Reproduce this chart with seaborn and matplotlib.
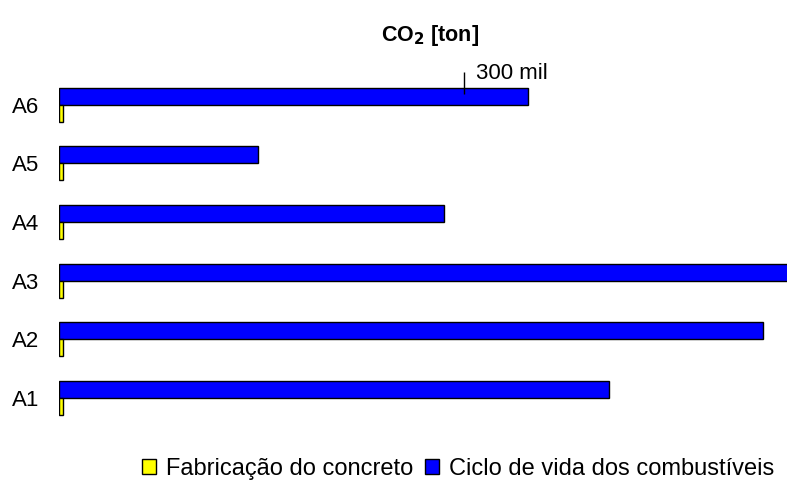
import pandas as pd
import seaborn as sns
import matplotlib.pyplot as plt
from matplotlib.patches import Patch
from matplotlib.transforms import offset_copy

# ---- data (tons of CO2)
categories = ['A6', 'A5', 'A4', 'A3', 'A2', 'A1']
concreto = [3000, 3000, 3000, 3000, 3000, 3000]
combustiveis = [347000, 147000, 285000, 560000, 521000, 407000]
series_names = ['Fabricação do concreto', 'Ciclo de vida dos combustíveis']
series_colors = ['#FFFF00', '#0000FF']
tick_value = 300000
tick_label = '300 mil'

df = pd.DataFrame({
    'cat': categories * 2,
    'serie': [series_names[1]] * 6 + [series_names[0]] * 6,
    'val': combustiveis + concreto,
})

sns.set_style('white')
plt.rcParams['font.family'] = ['Liberation Sans', 'DejaVu Sans']
plt.rcParams['text.color'] = 'black'
plt.rcParams['ytick.color'] = 'black'
plt.rcParams['xtick.color'] = 'black'

fig = plt.figure(figsize=(7.87, 4.80), dpi=100)
ax = fig.add_axes([59 / 787, 1 - 427 / 480, 1 - 59 / 787, 355 / 480])

sns.barplot(data=df, y='cat', x='val', hue='serie', order=categories,
            hue_order=[series_names[1], series_names[0]],
            palette=[series_colors[1], series_colors[0]], saturation=1,
            orient='h', width=0.58, edgecolor='black', linewidth=1,
            legend=False, ax=ax)

ax.set_xlim(0, 539000)
ax.set_ylim(5.5, -0.56)
ax.set_axisbelow(False)
for s in ax.spines.values():
    s.set_visible(False)
ax.set_xlabel('')
ax.set_ylabel('')
ax.tick_params(axis='y', length=0, pad=14, labelsize=16, labelcolor='black')

# single reference tick at the top
ax.xaxis.set_ticks_position('top')
ax.set_xticks([tick_value])
ax.set_xticklabels([''])
ax.tick_params(axis='x', direction='in', length=16, width=1, color='black')
ax.text(tick_value, 1.0, tick_label, fontsize=16, ha='left', va='baseline',
        transform=offset_copy(ax.get_xaxis_transform(), fig=fig, x=12, y=-7, units='dots'))

fig.text(430 / 787, 1 - 35 / 480, 'CO$_\\mathbf{2}$ [ton]', ha='center', va='center',
         fontsize=15.5, fontweight='bold')

handles = [Patch(facecolor=c, edgecolor='black', linewidth=1) for c in series_colors]
fig.legend(handles, series_names, loc='center', bbox_to_anchor=(458 / 787, 1 - 469 / 480),
           ncol=2, frameon=False, fontsize=17, handlelength=0.59, handleheight=0.59,
           handletextpad=0.42, columnspacing=0.5, borderpad=0, borderaxespad=0)

fig.savefig('out.png', dpi=100)
